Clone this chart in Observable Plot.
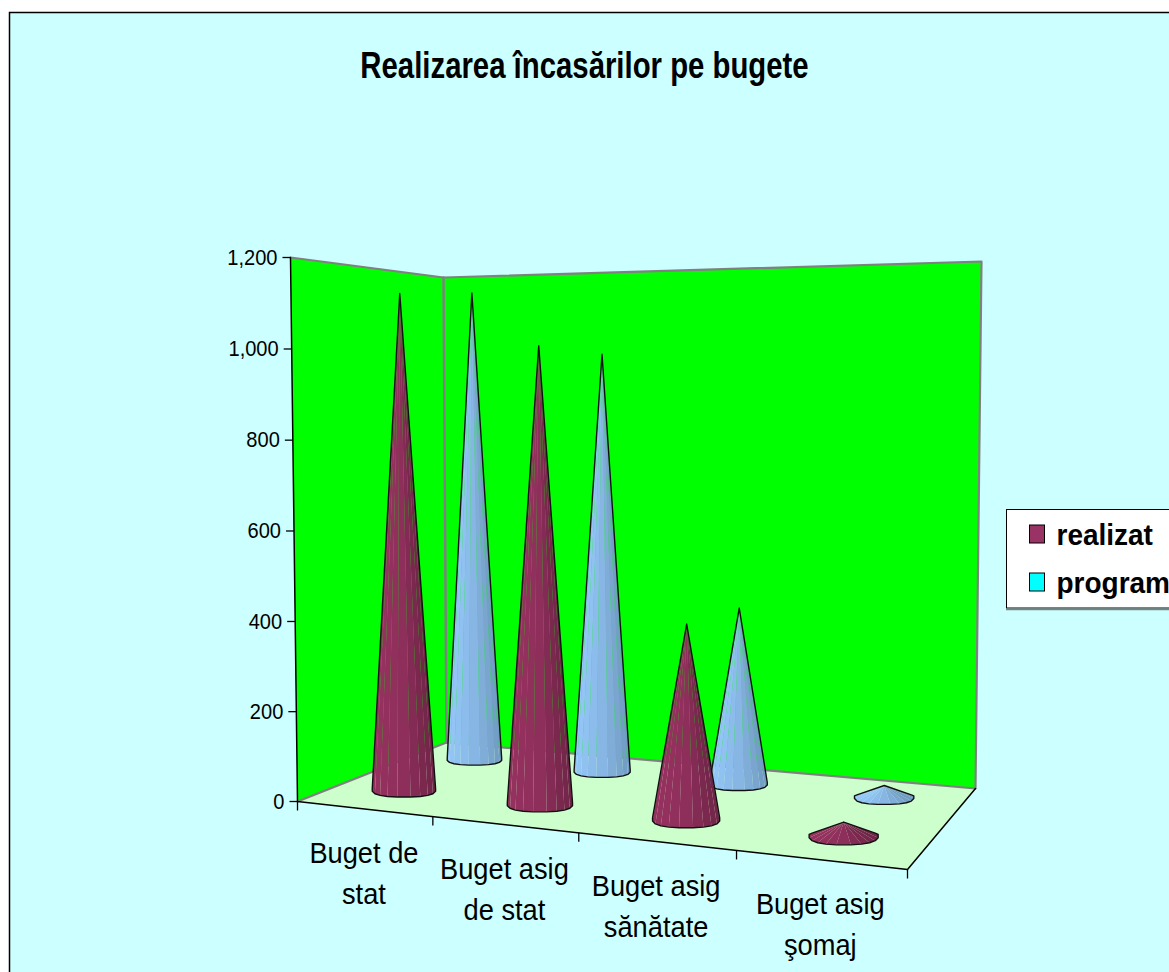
<!DOCTYPE html>
<html><head><meta charset="utf-8">
<script src="https://cdn.jsdelivr.net/npm/d3@7"></script>
<script src="https://cdn.jsdelivr.net/npm/@observablehq/plot@0.6"></script>
<style>html,body{margin:0;padding:0;background:#fff;overflow:hidden}</style>
</head><body><div id="chart"></div>
<script>
const chartTitle = "Realizarea încasărilor pe bugete";
const categories = ["Buget de\nstat", "Buget asig\nde stat", "Buget asig\nsănătate", "Buget asig\nşomaj"];
const seriesNames = ["realizat", "program"];
const realizat = [1122, 1004, 419, 32];
const program = [1140, 988, 408, 30];
const valueTicks = [0, 200, 400, 600, 800, 1000, 1200];

const W = 1169, H = 972, maxValue = 1200;
const swatchColors = {realizat: "#993366", program: "#00ffff"};
const coneShades = {realizat: ["#97315f", "#8c2e5b", "#6f2447"], program: ["#94c8f8", "#86b4e2", "#6f9ac0"]};
const seriesDepth = {realizat: 0.25, program: 0.75};
const rimWidth = {realizat: 32, program: 27.5};
const rimHeight = {realizat: 8, program: 6.5};
const rimLift = 2.5;

function quad(p0, p1, p2, p3) {
  const dx1 = p1[0]-p2[0], dx2 = p3[0]-p2[0], dx3 = p0[0]-p1[0]+p2[0]-p3[0];
  const dy1 = p1[1]-p2[1], dy2 = p3[1]-p2[1], dy3 = p0[1]-p1[1]+p2[1]-p3[1];
  const den = dx1*dy2-dx2*dy1;
  const g = (dx3*dy2-dx2*dy3)/den, h = (dx1*dy3-dx3*dy1)/den;
  const a = p1[0]-p0[0]+g*p1[0], b = p3[0]-p0[0]+h*p3[0];
  const d = p1[1]-p0[1]+g*p1[1], e = p3[1]-p0[1]+h*p3[1];
  return (u, v) => { const w = g*u+h*v+1; return [(a*u+b*v+p0[0])/w, (d*u+e*v+p0[1])/w]; };
}
const floorAt = quad([297,801],[907,869],[975,788],[446,742]);
// how far the full value range reaches from each floor corner: front-left, front-right, back-right, back-left
const reach = [[-7,-544],[6,-616],[6,-527],[-3,-465]];
const rise = t => t/(1+0.011*(1-t));
const warp = s => s+0.033*s*(1-s);
function project(cat, depth, value) {
  const s = warp(cat/categories.length), a = floorAt(s, depth), t = rise(value/maxValue);
  const w = [(1-s)*(1-depth), s*(1-depth), s*depth, (1-s)*depth];
  const r = [0, 1].map(k => d3.sum(reach, (q, i) => q[k]*w[i]));
  return [a[0]+r[0]*t, a[1]+r[1]*t];
}
const pt = (c, d, v) => { const [x, y] = project(c, d, v); return {x, y}; };
const n = categories.length;

const poly = (pts, o) => Plot.line(pts, {x: "x", y: "y", curve: "linear", ...o});
const closed = a => [...a, a[0]];
const soft = (t, e) => Math.sign(t)*Math.pow(Math.abs(t), e);

function coneMarks(name, cat, value) {
  const depth = seriesDepth[name], facets = 20, c = cat+0.5;
  const tip = pt(c, depth, value), centre = pt(c, depth, 0);
  const rx = rimWidth[name]*(1+0.03*cat), ry = rimHeight[name]*(1+0.08*cat);
  const rim = d3.range(facets).map(i => {
    const th = (i+0.5)/facets*2*Math.PI, sn = Math.sin(th);
    return {x: centre.x+rx*soft(Math.cos(th), 0.85), y: centre.y-rimLift+(sn > 0 ? ry*soft(sn, 0.7) : ry*0.4*sn)};
  });
  const shade = d3.scaleLinear().domain([-1, 0.1, 1]).range(coneShades[name]).clamp(true);
  const seen = rim.map((p, i) => {
    const q = rim[(i+1)%facets];
    return (p.x-tip.x)*(q.y-tip.y)-(p.y-tip.y)*(q.x-tip.x) > 0;
  });
  const rows = [];
  seen.forEach((s, i) => {
    if (!s) return;
    const p = rim[i], q = rim[(i+1)%facets], fill = shade(((p.x+q.x)/2-centre.x)/rx);
    for (const r of [tip, p, q]) rows.push({...r, id: i, fill});
  });
  let start = seen.findIndex((s, i) => s && !seen[(i+facets-1)%facets]);
  if (start < 0) start = 0;
  const all = seen.every(Boolean);
  const outline = [];
  for (let k = 0; k <= facets; k++) {
    const i = (start+k)%facets;
    outline.push(rim[i]);
    if (!all && !seen[i]) break;
  }
  const outlinePts = all ? outline : [tip, ...outline, tip];
  return [
    poly(rows, {z: "id", fill: "fill", stroke: "none"}),
    poly(outlinePts, {stroke: "#111", strokeWidth: 1.4, strokeLinejoin: "round"})
  ];
}

const leftWall = closed([pt(0,0,0), pt(0,1,0), pt(0,1,maxValue), pt(0,0,maxValue)]);
const backWall = closed([pt(0,1,0), pt(n,1,0), pt(n,1,maxValue), pt(0,1,maxValue)]);
const floorPoly = closed([pt(0,0,0), pt(n,0,0), pt(n,1,0), pt(0,1,0)]);

const marks = [
  Plot.rect([{}], {x1: () => 9.5, x2: () => 1190, y1: () => 12.5, y2: () => 1000, fill: "#ccffff", stroke: "#000", strokeWidth: 1.5}),
  poly(leftWall, {fill: "#00ff00", stroke: "none"}),
  poly(backWall, {fill: "#00ff00", stroke: "none"}),
  poly(floorPoly, {fill: "#ccffcc", stroke: "none"}),
  poly([pt(0,0,maxValue), pt(0,1,maxValue), pt(n,1,maxValue), pt(n,1,0), pt(0,1,0), pt(0,0,0)], {stroke: "#808080", strokeWidth: 2.2}),
  poly([pt(0,1,maxValue), pt(0,1,0)], {stroke: "#808080", strokeWidth: 2.5}),
  poly([pt(0,0,maxValue), pt(0,0,0), pt(n,0,0), pt(n,1,0)], {stroke: "#000", strokeWidth: 1.5}),
  Plot.link(valueTicks.map(v => pt(0,0,v)), {x1: d => d.x-8, x2: "x", y1: "y", y2: "y", stroke: "#000", strokeWidth: 1.3}),
  Plot.link(d3.range(n+1).map(i => pt(i,0,0)), {x1: "x", x2: "x", y1: "y", y2: d => d.y+9, stroke: "#000", strokeWidth: 1.3}),
  Plot.text(valueTicks, {className: "sq-tick", x: v => pt(0,0,v).x-13, y: v => pt(0,0,v).y, text: d3.format(","), textAnchor: "end", fontSize: 22.3, fill: "#000", fontFamily: "Liberation Sans"}),
  Plot.text(categories, {className: "sq-cat", x: (d,i) => pt(i+0.5,0,0).x, y: (d,i) => pt(i+0.5,0,0).y+61.5, text: d => d, textAnchor: "middle", fontSize: 29, lineHeight: 1.414, fill: "#000", fontFamily: "Liberation Sans"}),
  ...program.flatMap((v, i) => coneMarks("program", i, v)),
  ...realizat.flatMap((v, i) => coneMarks("realizat", i, v)),
  Plot.text([chartTitle], {className: "sq-title", x: () => 584, y: () => 66, text: d => d, fontSize: 36, fontWeight: "bold", fill: "#000", fontFamily: "Liberation Sans"}),
  Plot.rect([{}], {x1: () => 1006.5, x2: () => 1190, y1: () => 509.5, y2: () => 608, fill: "#fff", stroke: "#000", strokeWidth: 1}),
  Plot.ruleY([609], {x1: 1006, x2: 1169, stroke: "#808080", strokeWidth: 1.5}),
  Plot.rect(seriesNames, {x1: () => 1029.5, x2: () => 1044.5, y1: (d,i) => 525+i*48, y2: (d,i) => 543+i*48, fill: d => swatchColors[d], stroke: "#000", strokeWidth: 1}),
  Plot.text(seriesNames, {className: "sq-leg", x: () => 1056, y: (d,i) => 535+i*48, text: d => d, textAnchor: "start", fontSize: 30, fontWeight: "bold", fill: "#000", fontFamily: "Liberation Sans"})
];

const svg = Plot.plot({
  width: W, height: H, margin: 0,
  x: {domain: [0, W], range: [0, W], axis: null},
  y: {domain: [0, H], range: [0, H], axis: null},
  color: {type: "identity"},
  style: {background: "#fff"},
  marks
});
// the reference's lettering is taller than it is wide: narrow each text horizontally about its anchor
for (const [cls, sx] of [["sq-tick", 0.9], ["sq-cat", 0.94], ["sq-title", 0.815], ["sq-leg", 0.933]]) {
  svg.querySelectorAll(`.${cls} text`).forEach(t => t.setAttribute("transform", `${t.getAttribute("transform") || ""} scale(${sx},1)`));
}
document.getElementById("chart").append(svg);
</script></body></html>
